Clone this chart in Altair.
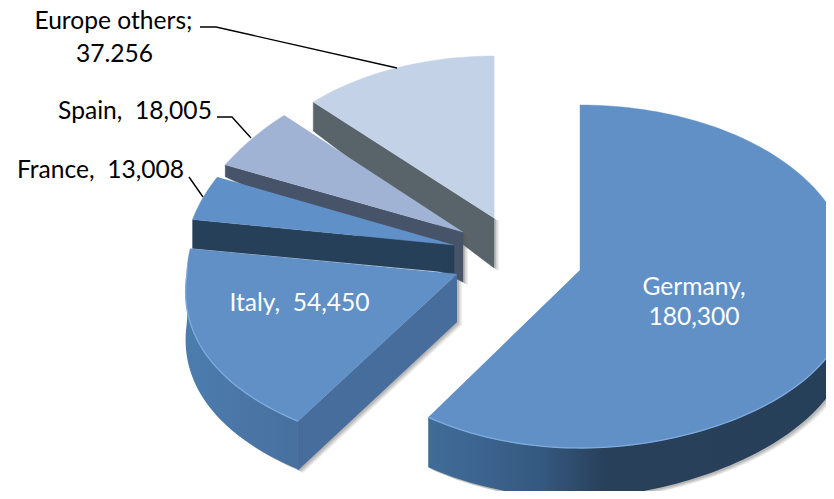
import math
import altair as alt
import pandas as pd

# ---- data ----
categories = ["Germany", "Italy", "France", "Spain", "Europe others"]
values = [180300, 54450, 13008, 18005, 37256]

label_lines = ["Europe others;", "37.256", "Spain,\u00a0 18,005", "France,\u00a0 13,008"]
label_x = [113.5, 114.5, 135, 100.5]
label_y = [22, 55, 112, 171]
inner_lines = ["Italy,\u00a0 54,450", "Germany,", "180,300"]
inner_x = [299.5, 694, 694]
inner_y = [304, 288, 318]

# ---- layout / style ----
W, H = 818, 483
XS = alt.Scale(domain=[8, 826], nice=False, zero=False)
YS = alt.Scale(domain=[491, 8], nice=False, zero=False)
FONT = "Lato"

total = sum(values)
angles = {}
a = 0.0
for c, v in zip(categories, values):
    angles[c] = (a, a + v / total * 360)
    a += v / total * 360

# centre x, centre y, rx, ry above, ry below,
# extra rx towards lower right, lower left, upper left
geom = {
    "Germany": (580, 270, 270, 165, 178, 31, 0, 0),
    "Italy": (457, 274, 270, 165, 178, 0, 28, 0),
    "France": (454, 245, 268, 165, 178, 0, 0, -22),
    "Spain": (463, 232, 276, 163, 178, 0, 0, -40),
    "Europe others": (494, 218, 259, 162, 178, 0, 0, 0),
}


def rim(cat, t):
    cx, cy, rx, ryt, ryb, k1, k2, k3 = geom[cat]
    s, co = math.sin(math.radians(t)), math.cos(math.radians(t))
    r = (rx + k1 * max(0, s) * max(0, -co)
         + k2 * max(0, -s) * max(0, -co)
         + k3 * max(0, -s) * max(0, co))
    return cx + r * s, cy - co * (ryt if co > 0 else ryb)


def arc(cat, t0, t1, step=1.5):
    n = max(2, int(abs(t1 - t0) / step) + 1)
    return [rim(cat, t0 + (t1 - t0) * i / (n - 1)) for i in range(n)]


layers = []


def frame(pts):
    return pd.DataFrame({"x": [p[0] for p in pts], "y": [p[1] for p in pts], "i": range(len(pts))})


def enc(ch):
    return ch.encode(
        x=alt.X("x:Q", scale=XS, axis=None),
        y=alt.Y("y:Q", scale=YS, axis=None),
        order="i:Q",
    )


def poly(pts, fill, opacity=1.0, shadow=False):
    if shadow:
        for dx, dy, op in [(5, 3, 0.10), (3.5, 2.5, 0.16), (2, 1.5, 0.22)]:
            sp = [(x + dx, y + dy) for x, y in pts]
            layers.append(enc(alt.Chart(frame(sp)).mark_line(
                fill="#555555", fillOpacity=op, strokeWidth=0, clip=True)))
    layers.append(enc(alt.Chart(frame(pts)).mark_line(
        fill=fill, fillOpacity=opacity, stroke=fill if isinstance(fill, str) else "#466d9b",
        strokeWidth=0.4 if isinstance(fill, str) else 0, clip=True)))


def line(pts, color, width):
    layers.append(enc(alt.Chart(frame(pts)).mark_line(color=color, strokeWidth=width, clip=True)))


def top(cat, fill):
    t0, t1 = angles[cat]
    cx, cy = geom[cat][:2]
    poly([(cx, cy)] + arc(cat, t0, t1), fill)


def gradient(stops):
    return alt.Gradient(
        gradient="linear", x1=0, x2=1, y1=0, y2=0,
        stops=[alt.GradientStop(offset=o, color=c) for o, c in stops],
    )


# Europe others
t0, t1 = angles["Europe others"]
c = rim("Europe others", t0)
poly([(494, 218), (494, 268), (c[0], c[1] + 29), c], "#586469", shadow=True)
poly([(494, 218), (494, 56), (494, 218)], "#c3d2e6", shadow=True)
top("Europe others", "#c3d2e6")

# Spain
t0, t1 = angles["Spain"]
c = rim("Spain", t0)
poly([(463, 232), (463, 282), (455, 278), (c[0], c[1] + 12), c], "#475368", shadow=True)
top("Spain", "#a0b3d5")

# France
t0, t1 = angles["France"]
c = rim("France", t0)
poly([(454, 245), (454, 273), (c[0], c[1] + 29), c], "#274059")
top("France", "#6090c8")

# Italy
t0, t1 = angles["Italy"]
c = rim("Italy", t0)
it = arc("Italy", t0, 272)
poly(it + [(x, y + 48) for x, y in reversed(it)],
     gradient([(0, "#4a7dae"), (0.5, "#4a76a6"), (1, "#46709e")]), shadow=True)
poly([(457, 274), c, (c[0], c[1] + 49), (457, 322)], "#466d9b", shadow=True)
top("Italy", "#6190c7")
line(it, "#7fabdf", 1.3)

# Germany
t0, t1 = angles["Germany"]
ge = arc("Germany", 70, t1)
low = [(x, y + 50 - 10 * max(0, x - 590) / 244) for x, y in ge]
poly(ge + list(reversed(low)),
     gradient([(0, "#3f6d98"), (0.12, "#3d6490"), (0.27, "#34587f"), (0.42, "#284059"), (1, "#274059")]),
     shadow=True)
top("Germany", "#6190c7")
line(arc("Germany", 112, t1), "#7fabdf", 1.3)

# leader lines
line([(200, 27), (216, 27), (397, 68)], "#000000", 1.4)
line([(217, 117), (232, 117), (251, 138)], "#000000", 1.4)
line([(189, 177), (203, 197)], "#000000", 1.4)

# labels
outer = pd.DataFrame({"x": label_x, "y": label_y, "t": label_lines})
inner = pd.DataFrame({"x": inner_x, "y": inner_y, "t": inner_lines})
for df, col in [(outer, "#000000"), (inner, "#ffffff")]:
    layers.append(alt.Chart(df).mark_text(font=FONT, fontSize=24.6, color=col, align="center", baseline="middle").encode(
        x=alt.X("x:Q", scale=XS, axis=None),
        y=alt.Y("y:Q", scale=YS, axis=None),
        text="t:N",
    ))

chart = alt.layer(*layers).properties(
    width=W, height=H, padding=0, autosize=alt.AutoSizeParams(type="none"),
    background="#ffffff",
).configure_view(stroke=None)

chart.save("out.html", embed_options={"renderer": "svg", "actions": False})
